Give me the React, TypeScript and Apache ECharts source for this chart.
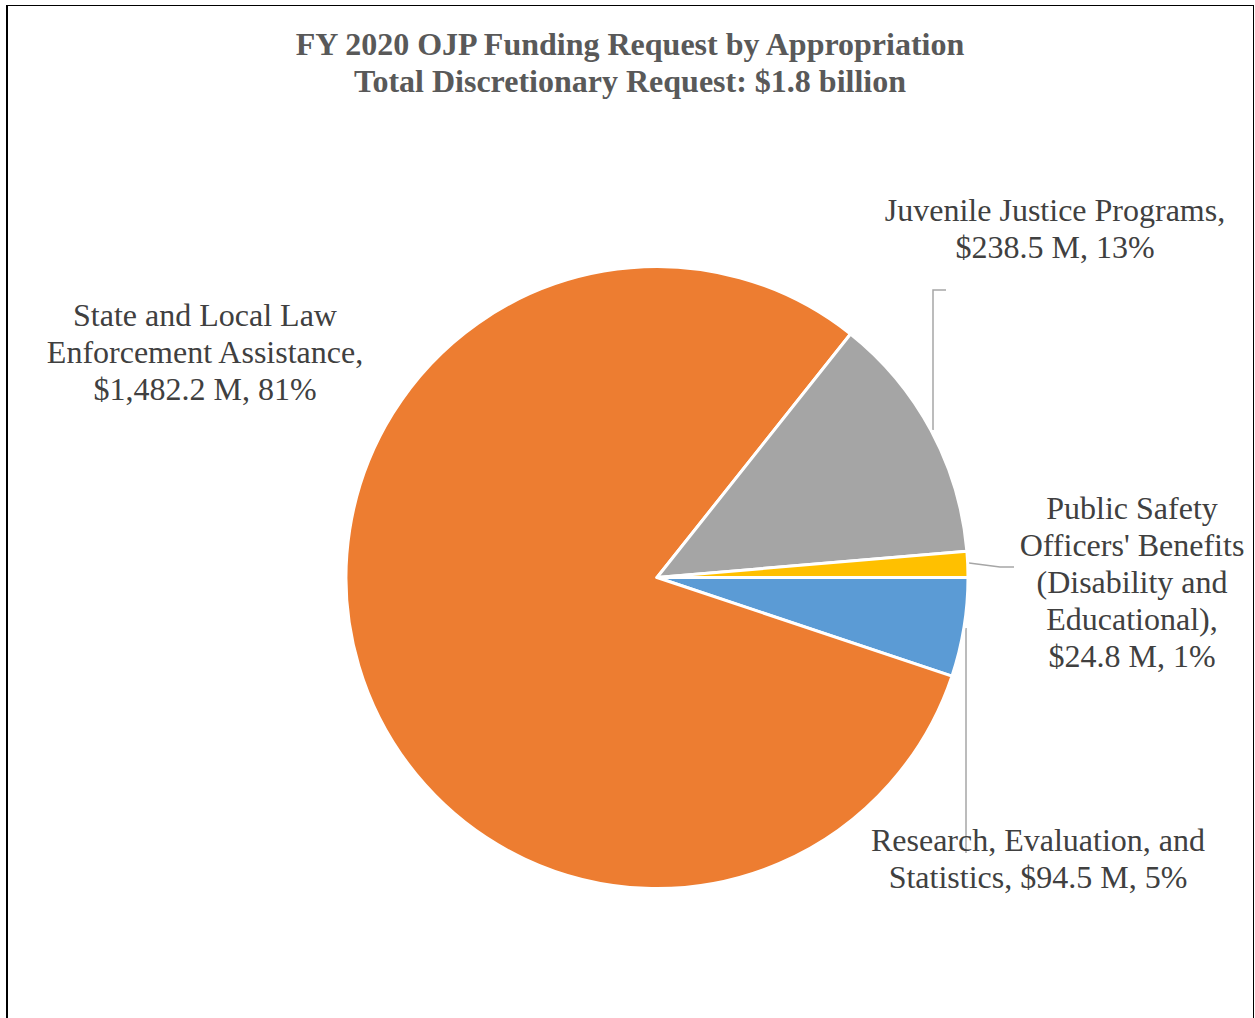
import React, { useEffect, useRef } from "react";
import * as echarts from "echarts";

const titleLines = [
  "FY 2020 OJP Funding Request by Appropriation",
  "Total Discretionary Request: $1.8 billion",
];

// Slices in clockwise order starting at 3 o'clock
const categories = [
  "Research, Evaluation, and Statistics",
  "State and Local Law Enforcement Assistance",
  "Juvenile Justice Programs",
  "Public Safety Officers' Benefits (Disability and Educational)",
];
const valuesM = [94.5, 1482.2, 238.5, 24.8];
const colors = ["#5B9BD5", "#ED7D31", "#A5A5A5", "#FFC000"];

// Label text as wrapped in the reference (the value part is appended)
const labelPrefixes = [
  "Research, Evaluation, and\nStatistics, ",
  "State and Local Law\nEnforcement Assistance,\n",
  "Juvenile Justice Programs,\n",
  "Public Safety\nOfficers' Benefits\n(Disability and\nEducational),\n",
];

// Label placement (top-centre of each label block) and leader lines
const labelPlacement = [
  { x: 1038, y: 821, line: [[966, 628], [966, 740], [966, 853]] },
  { x: 205, y: 296, line: null },
  { x: 1055, y: 191, line: [[933, 430], [933, 290], [946, 290]] },
  { x: 1132, y: 489, line: [[969, 563], [1000, 567], [1014, 567]] },
];

export default function App() {
  const ref = useRef<HTMLDivElement>(null);

  useEffect(() => {
    document.body.style.margin = "0";
    const chart = echarts.init(ref.current!, undefined, { renderer: "svg" });
    const total = valuesM.reduce((a, b) => a + b, 0);
    const serif = "'Liberation Serif', 'Times New Roman', serif";

    const option: any = {
      animation: false,
      backgroundColor: "#ffffff",
      title: {
        text: titleLines.join("\n"),
        left: 625,
        top: 20,
        textAlign: "center",
        textStyle: {
          fontFamily: serif,
          fontWeight: "bold",
          fontSize: 32,
          lineHeight: 37,
          color: "#595959",
        },
      },
      graphic: [
        { type: "line", shape: { x1: 7, y1: 5, x2: 7, y2: 1018 }, style: { stroke: "#000", lineWidth: 2 } },
        { type: "line", shape: { x1: 6, y1: 5.5, x2: 1254, y2: 5.5 }, style: { stroke: "#000", lineWidth: 1 } },
        { type: "line", shape: { x1: 1253.5, y1: 5, x2: 1253.5, y2: 1018 }, style: { stroke: "#000", lineWidth: 1 } },
      ],
      series: [
        {
          type: "pie",
          center: [657, 577.5],
          radius: [0, 311],
          startAngle: 0,
          clockwise: true,
          avoidLabelOverlap: false,
          silent: true,
          itemStyle: { borderColor: "#ffffff", borderWidth: 3 },
          label: {
            show: true,
            position: "outside",
            fontFamily: serif,
            fontSize: 32,
            lineHeight: 37,
            color: "#404040",
            align: "center",
            formatter: (p: any) => {
              const v = Number(p.value).toLocaleString("en-US", {
                minimumFractionDigits: 1,
                maximumFractionDigits: 1,
              });
              const pct = Math.round((p.value / total) * 100);
              return `${labelPrefixes[p.dataIndex]}$${v} M, ${pct}%`;
            },
          },
          labelLine: {
            show: true,
            lineStyle: { color: "#A6A6A6", width: 1.5 },
          },
          labelLayout: (params: any) => {
            const pl = labelPlacement[params.dataIndex];
            const res: any = {
              x: pl.x,
              y: pl.y,
              align: "center",
              verticalAlign: "top",
            };
            if (pl.line) res.labelLinePoints = pl.line;
            return res;
          },
          data: categories.map((name, i) => ({
            name,
            value: valuesM[i],
            itemStyle: { color: colors[i] },
            labelLine: { show: labelPlacement[i].line != null },
          })),
        },
      ],
    };
    chart.setOption(option);
    return () => chart.dispose();
  }, []);

  return (
    <div
      ref={ref}
      style={{ position: "absolute", left: 0, top: 0, width: 1255, height: 1018 }}
    />
  );
}
